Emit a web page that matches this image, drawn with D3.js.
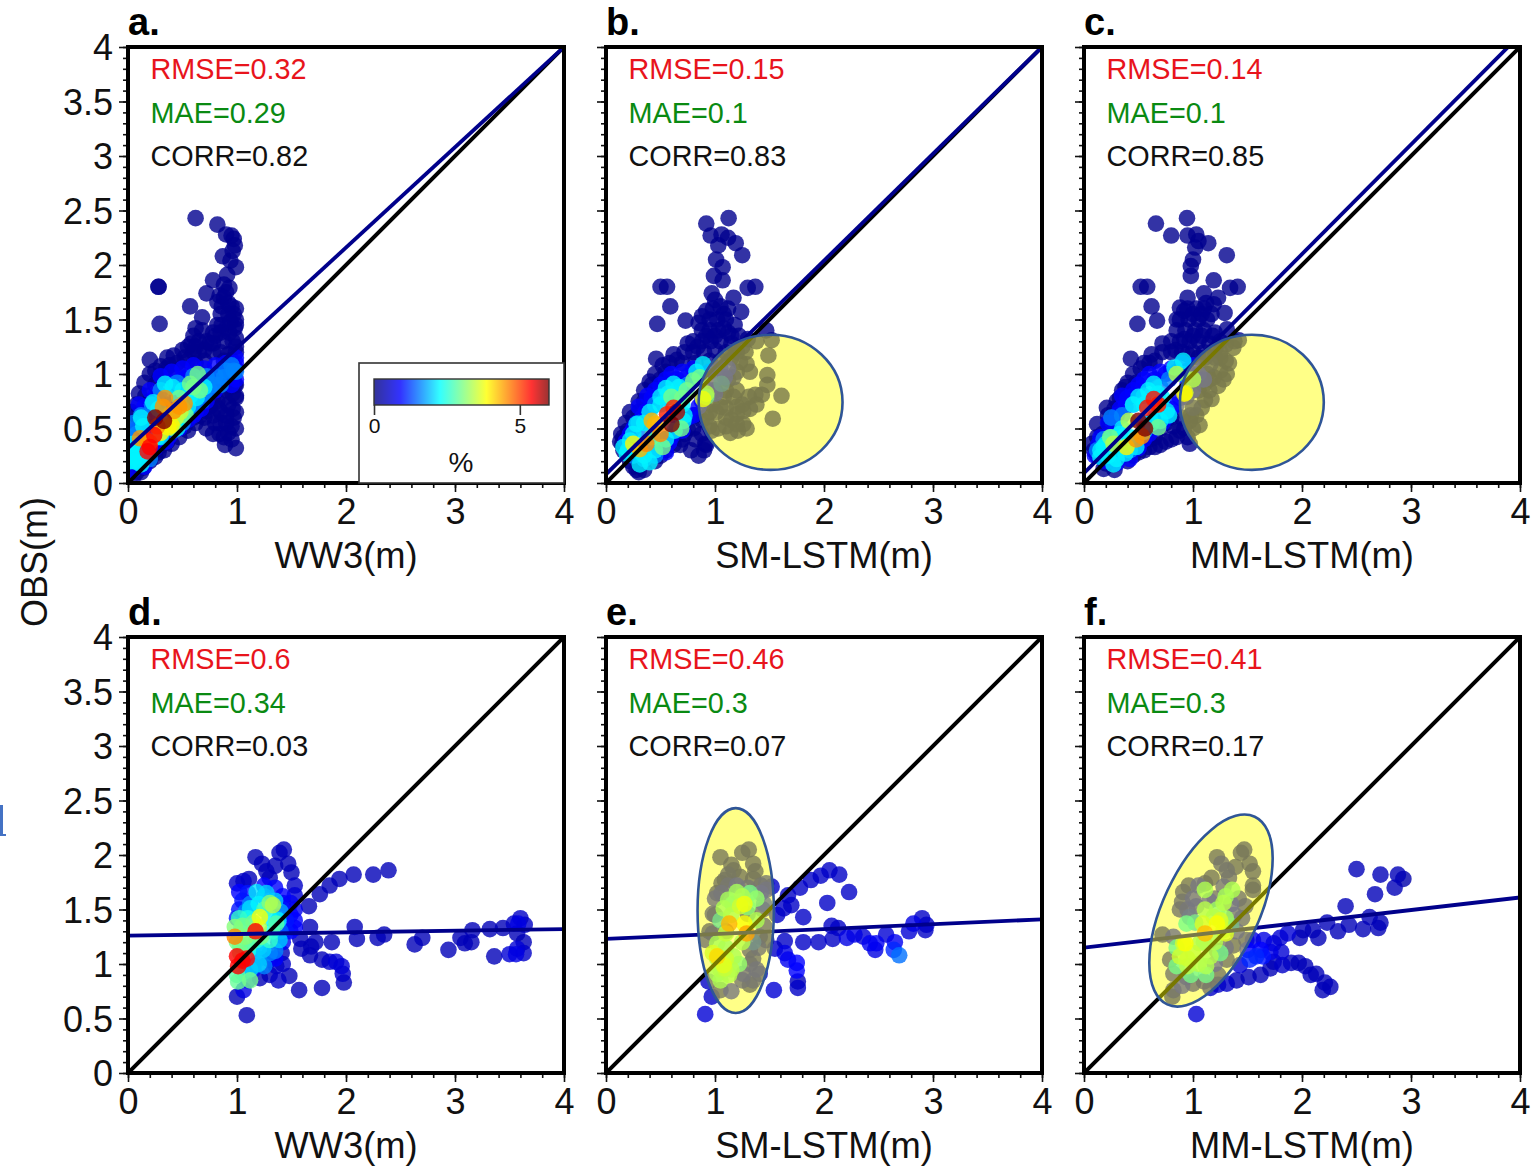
<!DOCTYPE html>
<html>
<head>
<meta charset="utf-8">
<script src="https://cdn.jsdelivr.net/npm/d3@7"></script>
<style>
html, body { margin: 0; padding: 0; background: #fff; overflow: hidden; }
svg { display: block; }
text { font-family: "Liberation Sans", Arial, sans-serif; }
</style>
</head>
<body>
<div id="chart"></div>
<script>
// Textes de chaque panneau
var panelLetters = ["a.", "b.", "c.", "d.", "e.", "f."];
var xLabels = ["WW3(m)", "SM-LSTM(m)", "MM-LSTM(m)", "WW3(m)", "SM-LSTM(m)", "MM-LSTM(m)"];
var rmseValues = ["0.32", "0.15", "0.14", "0.6", "0.46", "0.41"];
var maeValues = ["0.29", "0.1", "0.1", "0.34", "0.3", "0.3"];
var corrValues = ["0.82", "0.83", "0.85", "0.03", "0.07", "0.17"];

// Droites de regression : [y a x=0, y a x=4]
var fitLines = [[0.32, 4.0], [0.08, 4.0], [0.09, 4.11], [1.26, 1.32], [1.23, 1.41], [1.15, 1.61]];

var xMajor = [0, 1, 2, 3, 4];
var yMajor = [0, 0.5, 1, 1.5, 2, 2.5, 3, 3.5, 4];
var legendTicks = [0, 5];

// Echelle de couleur (%)
var colorStops = [0, 0.9, 2.26, 3.86, 5.4, 6];
var colorValues = ["#000080", "#0000ff", "#00ffff", "#ffff00", "#ff0000", "#800000"];

// Ellipses jaunes : panneau, centre x, centre y, rayon x, rayon y (en m), rotation
var highlights = [
    [1, 1.51, 0.74, 0.66, 0.62, 0],
    [2, 1.54, 0.74, 0.66, 0.62, 0],
    [4, 1.19, 1.49, 0.35, 0.94, 0],
    [5, 1.165, 1.49, 0.44, 0.95, 25]
];

// Points : [x, y, %]
var pointsA = [
[.62,2.43,.1],[.82,2.37,.1],[.9,2.28,.1],[.95,2.27,.1],[.97,2.24,.1],[.98,2.18,.1],[.96,2.13,.1],[.87,2.08,.1],[.94,2.04,.1],[.99,1.98,.1],[.91,1.91,.1],[.78,1.86,.1],[.88,1.82,.1],[.93,1.79,.1],[.72,1.74,.1],[.28,1.8,.1],[.28,1.8,.1],[.29,1.46,.1],[.57,1.62,.1],[.68,1.52,.1],[.2,1.13,.1],
[.82,1.66,.1],[.88,1.7,.1],[.95,1.62,.1],[.99,1.6,.1],[.85,1.55,.1],[.92,1.55,.1],[.99,1.5,.1],[.82,1.45,.1],[.9,1.42,.1],[.98,1.42,.1],[.99,1.33,.1],[.8,1.35,.1],[.88,1.3,.1],[.96,1.3,.1],[.75,1.28,.1],[.62,1.42,.1],[.6,1.35,.1],[.65,1.3,.1],[.7,1.22,.1],[.55,1.25,.1],[.5,1.22,.1],[.42,1.17,.1],[.36,1.15,.1],[.3,1.07,.1],[.2,1,.1],[.25,1.03,.1],[.15,.92,.1],[.1,.82,.1],[.03,.65,.1],[.02,.55,.1],[.08,.72,.1],[.16,.8,.1],[.28,.95,.1],[.35,1.05,.1],[.45,1.1,.1],[.52,1.15,.1],[.6,1.2,.1],[.7,1.12,.1],[.78,1.2,.1],[.85,1.2,.1],[.92,1.18,.1],[.99,1.2,.1],
[.99,.32,.1],[.89,.35,.1],[.78,.45,.1],[.92,.46,.1],[.84,.45,.1],[.72,.5,.1],[.8,.55,.1],[.9,.55,.1],[.97,.6,.1],[.7,.6,.1],[.62,.55,.1],[.55,.48,.1],[.47,.42,.1],[.4,.36,.1],[.33,.3,.1],[.25,.24,.1],[.2,.2,.1],[.85,.65,.1],[.92,.72,.1],[.99,.78,.1],[.82,.75,.1],[.9,.85,.1],[.98,.9,.1],[.75,.7,.1],[.99,.8,.1],[.12,.1,.1],[.05,.06,.1],
[.05,.45,.1],[.1,.5,.1],[.08,.62,.1],[.15,.6,.1],[.2,.75,.1],[.25,.9,.1],[.33,.98,.1],[.38,1.08,.1],[.46,1.03,.1],[.55,1.12,.1],[.62,1.1,.1],[.65,1.2,.1],[.72,1.3,.1],[.78,1.38,.1],[.85,1.38,.1],[.93,1.38,.1],[.78,1.28,.1],[.86,1.45,.1],[.94,1.48,.1],[.86,1.62,.1],[.92,1.65,.1],[.84,1.72,.1],[.9,1.75,.1],[.97,1.55,.1],[.99,1.45,.1],[.99,1.25,.1],[.68,1.4,.1],[.58,1.28,.1],[.62,1.25,.1],[.88,1.12,.1],[.95,1.12,.1],
[.88,.42,.1],[.95,.52,.1],[.99,.65,.1],[.85,.55,.1],[.78,.62,.1],[.72,.66,.1],[.66,.62,.1],[.6,.6,.1],[.52,.52,.1],[.96,.68,.1],[.9,.62,.1],[.99,.5,.1],[.95,.4,.1],[.88,.78,.1],[.96,.82,.1],[.99,.9,.1],[.78,.78,.1],[.83,.68,.1],[.93,.95,.1],[.3,.34,.1],[.36,.38,.1],[.28,.28,.1],[.14,.14,.1],[.08,.1,.1],
[.1,.72,.9],[.2,.85,.9],[.3,.98,.9],[.4,1.02,.9],[.5,1.05,.9],[.6,1.08,.9],[.7,1.05,.9],[.8,1.08,.9],[.9,1.1,.9],[.99,1.15,.9],[.99,1.05,.9],[.99,.95,.9],[.95,1,.9],[.85,1,.9],[.95,.9,.9],[.72,.75,.9],[.8,.85,.9],[.62,.65,.9],[.55,.58,.9],[.47,.5,.9],[.38,.43,.9],[.3,.38,.9],[.22,.3,.9],[.15,.2,.9],[.05,.12,.9],[.75,.95,.9],[.15,.7,.9],[.25,.8,.9],[.4,.92,.9],[.5,.95,.9],
[.08,.5,.9],[.18,.62,.9],[.28,.75,.9],[.35,.72,.9],[.45,.8,.9],[.55,.98,.9],[.65,.98,.9],[.78,.92,.9],[.88,.95,.9],[.97,.98,.9],[.99,1.1,.9],[.7,.9,.9],[.67,.68,.9],[.6,.62,.9],[.35,.38,.9],[.25,.32,.9],[.15,.15,.9],[.1,.25,.9],[.02,.2,.9],[.2,.5,.9],
[.3,.85,1.6],[.22,.72,1.6],[.12,.62,1.6],[.6,.98,1.6],[.72,.98,1.6],[.8,.98,1.6],[.9,1.03,1.6],[.95,1.08,1.6],[.68,.75,1.6],[.6,.72,1.6],[.5,.55,1.6],[.42,.48,1.6],[.05,.55,1.6],[.85,.9,1.6],[.75,.85,1.6],
[.15,.55,1.6],[.25,.65,1.6],[.08,.45,1.6],[.35,.8,1.6],[.45,.92,1.6],[.55,.88,1.6],[.7,.82,1.6],[.78,.9,1.6],[.88,.97,1.6],[.97,1.03,1.6],[.58,.68,1.6],[.02,.42,1.6],[.2,.22,1.6],[.12,.3,1.6],[.99,1.02,1.6],
[.34,.91,2.2],[.41,.88,2.2],[.12,.6,2.2],[.06,.24,2.2],[.09,.19,2.2],[.05,.36,2.2],[.5,.85,2.2],[.57,.8,2.2],[.63,.78,2.2],[.23,.74,2.2],[.03,.3,2.2],[.3,.42,2.2],[.5,.6,2.2],[.42,.55,2.2],[.18,.27,2.2],
[.14,.52,2.2],[.08,.3,2.2],[.02,.2,2.2],[.27,.42,2.2],[.12,.17,2.2],[.28,.68,2.2],[.45,.5,2.2],[.55,.7,2.2],[.7,.88,2.2],[.05,.2,2.2],
[.64,1,3],[.57,.91,3],[.66,.85,3],[.6,.88,3],[.47,.78,3],[.5,.68,3],[.42,.5,3],[.53,.62,3],
[.44,.6,3.5],[.38,.62,3.5],[.48,.65,3.5],[.37,.51,3.9],[.4,.53,3.9],[.3,.46,3.9],
[.34,.78,4.5],[.32,.7,4.5],[.47,.7,4.5],[.52,.73,4.5],[.42,.66,4.5],[.17,.39,4.5],[.11,.41,4.5],[.2,.37,4.5],[.27,.52,4.5],
[.18,.29,5.4],[.2,.33,5.4],[.24,.44,5.4],[.25,.6,6],[.33,.57,6]
];
var pointsB = [
[1.125,2.43,.1],[.92,2.38,.1],[.96,2.27,.1],[1.06,2.28,.1],[1.12,2.25,.1],[1.19,2.2,.1],[1.03,2.18,.1],[1.25,2.09,.1],[1.01,2.05,.1],[1.07,1.98,.1],[.99,1.9,.1],[1.07,1.86,.1],[.5,1.8,.1],[.56,1.8,.1],[1.3,1.79,.1],[1.37,1.8,.1],[.97,1.74,.1],[1.17,1.7,.1],[.59,1.62,.1],[1.24,1.57,.1],[.73,1.49,.1],[.47,1.46,.1],[.88,1.53,.1],[.46,1.14,.1],[1.47,1.4,.1],
[.98,1.6,.1],[1.05,1.62,.1],[1.12,1.6,.1],[.95,1.5,.1],[1.02,1.5,.1],[1.1,1.5,.1],[1.18,1.45,.1],[.88,1.4,.1],[.95,1.4,.1],[1.03,1.4,.1],[1.12,1.38,.1],[1.22,1.35,.1],[1.3,1.32,.1],[.8,1.3,.1],[.88,1.3,.1],[.96,1.3,.1],[1.05,1.3,.1],[1.15,1.28,.1],[.72,1.2,.1],[.8,1.2,.1],[.9,1.2,.1],[1,1.22,.1],[1.1,1.2,.1],[.65,1.13,.1],[.58,1.1,.1],[.7,1.1,.1],[.82,1.1,.1],[.55,1.02,.1],[.45,1,.1],[.4,.93,.1],[.35,.85,.1],[.3,.75,.1],[.22,.65,.1],[.18,.55,.1],[.14,.45,.1],[.13,.38,.1],[.16,.3,.1],[.22,.2,.1],[.28,.12,.1],[.3,.1,.1],[.55,.3,.1],[.62,.35,.1],[.7,.4,.1],[.82,.4,.1],[.92,.35,.1],[.9,.3,.1],[.85,.25,.1],[.55,.4,.1],[.65,.45,.1],[.75,.5,.1],
[.2,.48,.1],[.25,.6,.1],[.3,.65,.1],[.35,.75,.1],[.42,.9,.1],[.5,.95,.1],[.52,1.08,.1],[.62,1.18,.1],[.75,1.28,.1],[.84,1.25,.1],[.92,1.35,.1],[1,1.35,.1],[1.08,1.42,.1],[1.15,1.35,.1],[1.25,1.25,.1],[1.38,1.3,.1],[1.2,1.2,.1],[.85,1.47,.1],[.92,1.58,.1],[1,1.68,.1],[1.08,1.55,.1],[.16,.42,.1],[.15,.36,.1],[.2,.3,.1],[.25,.15,.1],[.35,.12,.1],[.45,.2,.1],[.5,.25,.1],[.68,.35,.1],[.78,.3,.1],[.6,.42,.1],[.72,.45,.1],[.8,.5,.1],[.88,.45,.1],[.95,.52,.1],[.88,.58,.1],[.82,.62,.1],[.92,.6,.1],[.97,.72,.1],[1.05,.7,.1],[1.1,.85,.1],[1,.85,.1],[1.12,.95,.1],[1.2,1.02,.1],[1.15,1.15,.1],[1.05,1.12,.1],[.95,1.12,.1],[1.28,1.2,.1],[1.1,.6,.1],[1.15,.58,.1],[1.32,.68,.1],[1.25,.72,.1],[1.1,.52,.1],[1.2,.7,.1],[1.38,.72,.1],
[.6,1,.9],[.7,1.02,.9],[.8,1.05,.9],[.5,.9,.9],[.42,.78,.9],[.37,.66,.9],[.28,.55,.9],[.22,.45,.9],[.18,.38,.9],[.5,.3,.9],[.58,.37,.9],[.65,.5,.9],[.75,.6,.9],[.85,.7,.9],[.95,.85,.9],[1,.95,.9],[.3,.7,.9],[.38,.8,.9],[.9,1,.9],
[.25,.5,.9],[.33,.6,.9],[.42,.7,.9],[.45,.85,.9],[.55,.95,.9],[.65,.95,.9],[.75,.98,.9],[.85,1,.9],[.95,1.02,.9],[.2,.35,.9],[.25,.28,.9],[.42,.27,.9],[.55,.28,.9],[.6,.42,.9],[.7,.48,.9],[.8,.62,.9],[.88,.75,.9],[1,.82,.9],[1.05,1.05,.9],[.22,.3,.9],[1.12,1.05,.9],
[1.52,1.31,.1],[1.49,1.17,.1],[1.48,.99,.1],[1.48,.9,.1],[1.61,.8,.1],[1.53,.59,.1],[1.37,.81,.1],[1.43,.81,.1],[1.31,.79,.1],[1.2,.85,.1],[1.23,1.11,.1],[1.29,1.09,.1],[1.32,1.02,.1],[1.26,.66,.1],[1.2,.63,.1],[1.29,.5,.1],[1.21,.48,.1],[1.14,.46,.1],[1.03,.5,.1],[.97,.48,.1],[1.1,.69,.1],[1.01,.65,.1],[.95,.65,.1],[1.17,.79,.1],[1.08,.79,.1],[1.2,.54,.1],[1.26,.54,.1],[.91,.36,.1],[1.17,.97,.3],[1.09,.97,.9],[1.06,.91,1.3],
[.3,.55,1.6],[.35,.48,1.6],[.45,.72,1.6],[.55,.78,1.6],[.65,.82,1.6],[.75,.9,1.6],[.25,.25,1.6],[.35,.22,1.6],[.45,.25,1.6],[.65,.6,1.6],[.42,.4,1.6],
[.89,1.09,2.2],[.83,1.02,2.2],[.62,.91,2.2],[.57,.82,2.2],[.5,.79,2.2],[.22,.39,2.2],[.19,.27,2.2],[.31,.17,2.2],[.4,.19,2.2],[.16,.33,2.2],[.71,.57,2.2],[.63,.48,2.2],[.28,.54,2.2],[.92,.79,2],
[.25,.45,2.2],[.2,.3,2.2],[.28,.3,2.2],[.35,.25,2.2],[.45,.3,2.2],[.5,.72,2.2],[.55,.87,2.2],[.67,.88,2.2],[.72,.62,2.2],[.55,.4,2.2],[.7,.72,2.2],[.4,.65,2.2],[.35,.55,2.2],
[.8,.94,3],[.86,.97,3],[.74,.85,3],[.92,.82,3],[.6,.79,3],[.52,.33,3],[.69,.5,3],[.7,.78,3],[.42,.42,3],
[.89,.77,3.7],[.25,.36,3.9],[.42,.57,4.3],[.5,.45,4.6],[.37,.36,4.6],[.31,.31,4.3],[.45,.54,4.3],
[.62,.69,5.2],[.56,.63,5.2],[.6,.54,6],[.65,.65,5.8]
];
var pointsC = [
[.945,2.43,.1],[.66,2.38,.1],[.8,2.27,.1],[.95,2.27,.1],[1.03,2.28,.1],[1.05,2.22,.1],[1.14,2.2,.1],[1.02,2.16,.1],[1.31,2.09,.1],[1,2.05,.1],[.98,1.99,.1],[.98,1.9,.1],[1.19,1.86,.1],[.52,1.8,.1],[.58,1.8,.1],[1.34,1.79,.1],[1.41,1.8,.1],[1.1,1.74,.1],[1.23,1.7,.1],[.95,1.7,.1],[.62,1.62,.1],[1.29,1.56,.1],[1.19,1.64,.1],[.67,1.49,.1],[.49,1.46,.1],[.43,1.14,.1],[.88,1.61,.1],[1.31,1.41,.1],[1.2,1.38,.1],
[.95,1.6,.1],[1.03,1.6,.1],[1.1,1.6,.1],[.88,1.5,.1],[.96,1.5,.1],[1.05,1.5,.1],[1.13,1.5,.1],[.85,1.4,.1],[.93,1.4,.1],[1.02,1.4,.1],[1.1,1.4,.1],[.8,1.3,.1],[.88,1.3,.1],[.97,1.3,.1],[1.05,1.3,.1],[1.15,1.28,.1],[1.25,1.3,.1],[.72,1.2,.1],[.8,1.2,.1],[.9,1.2,.1],[1,1.2,.1],[1.1,1.2,.1],[1.3,1.27,.1],[.65,1.12,.1],[.55,1.1,.1],[.45,1,.1],[.4,.92,.1],[.35,.85,.1],[.3,.75,.1],[.21,.69,.1],[.23,.55,.1],[.17,.45,.1],[.12,.54,.1],[.09,.3,.1],[.18,.13,.1],[.45,.25,.1],[.55,.3,.1],[.65,.33,.1],[.75,.38,.1],[.97,.36,.1],[.85,.42,.1],[.92,.5,.1],[.35,.25,.1],[.6,.4,.1],[.7,.5,.1],[.8,.6,.1],
[.12,.42,.1],[.07,.36,.1],[.12,.25,.1],[.2,.18,.1],[.28,.12,.1],[.4,.2,.1],[.22,.62,.1],[.28,.68,.1],[.33,.78,.1],[.38,.88,.1],[.48,.92,.1],[.52,1.05,.1],[.6,1.1,.1],[.62,1.18,.1],[.72,1.28,.1],[.84,1.22,.1],[.92,1.32,.1],[1,1.35,.1],[1.08,1.35,.1],[1.2,1.22,.1],[1.18,1.35,.1],[.85,1.5,.1],[.92,1.58,.1],[1,1.55,.1],[1.08,1.55,.1],[1.12,1.65,.1],[1.17,1.55,.1],[1.25,1.2,.1],[1.38,1.3,.1],[.5,.28,.1],[.6,.33,.1],[.7,.35,.1],[.8,.4,.1],[.88,.48,.1],[.95,.42,.1],[.9,.6,.1],[.82,.52,.1],[.98,.62,.1],[1.03,.62,.1],[.75,.55,.1],[.65,.42,.1],[.55,.45,.1],[1.1,.9,.1],[1.15,.95,.1],[1.25,1.03,.1],[1.3,1.12,.1],[1.2,1.15,.1],[1.05,1.15,.1],[.95,1.18,.1],[1.15,.85,.1],[1.05,.85,.1],[1.28,.95,.1],[1.13,1,.1],
[1.42,1.31,.1],[1.37,1.24,.1],[1.33,1.1,.1],[1.31,1,.1],[1.23,.89,.1],[1.17,.77,.1],[1.11,.76,.1],[1.06,.53,.1],[1,.5,.1],[1.06,.94,.4],[1.16,1.09,.2],[1.25,1.15,.1],[1.08,.69,.1],[1,.69,.3],[.97,.57,.1],[1.19,.97,.1],[1.11,1.15,.2],[.94,.79,.5],
[.6,1,.9],[.7,1.02,.9],[.8,1.05,.9],[.9,1.1,.9],[1,1.08,.9],[.5,.9,.9],[.4,.78,.9],[.33,.68,.9],[.28,.55,.9],[.2,.42,.9],[.13,.35,.9],[.55,.4,.9],[.65,.5,.9],[.75,.6,.9],[.85,.72,.9],[.95,.9,.9],[1.05,1,.9],[.35,.8,.9],[.45,.8,.9],
[.15,.42,.9],[.22,.55,.9],[.3,.62,.9],[.38,.7,.9],[.45,.85,.9],[.55,.95,.9],[.65,.95,.9],[.75,1,.9],[.85,1.02,.9],[.95,1.03,.9],[.1,.25,.9],[.2,.2,.9],[.3,.18,.9],[.42,.22,.9],[.5,.32,.9],[.6,.45,.9],[.72,.55,.9],[.8,.68,.9],[.88,.78,.9],[1,.85,.9],[1.1,.95,.9],
[.25,.6,1.6],[.18,.4,1.6],[.12,.3,1.6],[.33,.3,1.6],[.42,.3,1.6],[.55,.55,1.6],[.65,.6,1.6],[.45,.72,1.6],[.55,.8,1.6],[.7,.88,1.6],[.78,.95,1.6],[.9,1,1.6],[.35,.62,1.6],
[.91,1.12,2.2],[.83,1.06,2.2],[.64,.91,2.2],[.59,.85,2.2],[.5,.79,2.2],[.7,.57,2.2],[.18,.33,2.2],[.27,.17,2.2],[.33,.45,2.2],[.38,.27,2.2],[.15,.24,2.2],[.48,.33,2.2],[.76,.66,2.2],
[.25,.42,2.2],[.2,.36,2.2],[.15,.3,2.2],[.22,.25,2.2],[.3,.22,2.2],[.42,.42,2.2],[.35,.5,2.2],[.55,.72,2.2],[.68,.82,2.2],[.45,.72,2.2],[.62,.55,2.2],[.55,.47,2.2],[.78,.62,2.2],[.72,.78,2.2],
[1,.95,3],[.67,.72,3],[.68,.51,3],[.24,.42,3],[.85,1,3.4],[.93,.83,3.4],[.41,.57,3.4],[.27,.36,3.4],[.92,.82,3.9],[.39,.33,3.9],[.48,.4,4.5],[.53,.43,4.5],
[.64,.77,5.3],[.58,.69,5.3],[.68,.72,5.3],[.5,.57,6],[.56,.5,6]
];
var pointsD = [
[1.43,2.05,.4],[1.39,2.02,.4],[1.17,1.98,.4],[1.23,1.92,.4],[1.35,1.9,.4],[1.47,1.92,.4],[1.27,1.85,.4],[1.5,1.84,.4],[1.3,1.79,.4],[2.39,1.86,.4],[2.25,1.82,.4],[2.07,1.82,.4],[1.94,1.78,.4],[1.85,1.72,.4],[1.76,1.64,.4],[1.66,1.53,.4],[1.53,1.72,.5],[1.53,1.63,.6],[1.42,1.56,.6],[1.11,1.78,.4],[1,1.74,.5],[1.06,1.76,.5],
[1.67,1.34,.4],[2.08,1.34,.4],[2.1,1.23,.4],[1.87,1.2,.4],[1.72,1.2,.4],[2.29,1.24,.4],[2.35,1.27,.4],[2.7,1.24,.4],[2.63,1.18,.4],[2.94,1.13,.4],[3.05,1.24,.4],[3.09,1.19,.4],[3.15,1.2,.4],[3.16,1.31,.4],[3.32,1.32,.4],[3.44,1.33,.4],[3.54,1.37,.5],[3.6,1.42,.5],[3.64,1.36,.5],[3.57,1.28,.4],[3.63,1.2,.4],[3.36,1.07,.4],[3.5,1.09,.6],[3.56,1.09,.7],[3.63,1.1,.5],[3.57,1.14,.6],[3.58,1.37,.7],
[1.58,1.23,.4],[1.59,1.14,.4],[1.68,1.16,.4],[1.67,1.08,.4],[1.78,1.04,.4],[1.85,1.02,.5],[1.91,1.02,.6],[1.96,.98,.6],[1.97,.91,.5],[1.98,.83,.4],[1.78,.78,.4],[1.57,.76,.4],[1.48,.89,.4],[1.09,.53,.4],[1,.7,.4],[1.06,.76,.7],[1.3,.9,.4],[1.21,.87,.4],[1.42,1,.5],[1.36,.98,.5],[1.41,1.1,.4],[1.3,1.04,.4],
[1.53,1.5,.8],[1.53,1.4,.9],[1.53,1.33,.9],[1.49,1.56,.8],[1.49,1.45,.9],[1.49,1.3,.9],
[1.02,1.66,.9],[1.05,1.58,1],[1.02,1.5,1],[1,1.42,1],[1.1,1.65,1],[1.25,1.72,.9],[1.35,1.7,.9],[1.42,1.62,.9],[1.42,1.5,1],[1.15,.95,1],[1.38,1.2,1],[1.45,1.3,1],[1.45,1.4,1],[1.1,.85,1],[1.35,1.05,.9],[1.38,.85,.5],[1.42,1.2,.8],
[1.12,1.55,1.6],[1.08,1.48,1.6],[1.25,1.62,1.6],[1.3,1.55,1.6],[1.15,.98,1.6],[1.2,1.05,1.6],[1.3,1.1,1.6],[1.25,.98,1.6],[1.05,1.02,1.6],[1.08,.92,1.6],[1.4,1.48,1.8],[1.4,1.3,1.4],[1.35,1.12,1.6],
[1.18,1.66,2.1],[1.27,1.65,2],[1.12,1.51,2.1],[1.38,1.4,2.2],[1.39,1.22,2],[1.24,1.13,2],[1.3,1.42,2.2],[1.2,1,2],[1.04,1.33,2.6],[1.32,1.3,2.4],[1.18,1.22,2.5],[1.2,1.55,2.2],[1.35,1.58,2],[1.02,1.42,2.6],[1.25,1.5,2.7],[1.1,1.42,2.4],[1.3,1.22,2.6],[1.2,1.15,2],[1.1,1.12,2.4],[1.12,.95,2],[1.05,.92,2],
[1.3,1.56,3.1],[1.01,.84,2.9],[.98,1.34,3.1],[1.03,1.17,2.9],[1.12,1.19,2.9],[1.36,1.37,2.8],[1.12,.85,3],[1.08,1.25,3.1],[1.33,1.54,3.4],[1.2,1.34,3.4],[1.21,1.43,3.8],[1.05,1.35,3],[1.15,1.38,3],[1.03,1.1,3],[1,.9,2.8],[1,1.2,3],[1.22,1.25,3],
[.98,1.25,4.6],[1.17,1.3,5.4],[1,1.07,5.4],[1.09,1.05,5.4],[1.01,.98,5.4],[1.05,1.03,5.4]
];
var pointsE = [
[1.31,2.05,.3],[1.25,2.02,.3],[1.05,1.98,.3],[1.15,1.91,.3],[1.35,1.92,.3],[1.37,1.85,.3],[1.17,1.86,.3],[1.23,1.8,.3],[1.09,1.77,.3],[1.02,1.65,.3],[1.06,1.74,.3],[1.35,1.78,.3],[1.12,1.82,.4],[1.42,1.72,.5],
[2.05,1.86,.5],[2.14,1.82,.5],[1.97,1.81,.5],[1.88,1.77,.5],[1.78,1.7,.5],[1.67,1.63,.5],[2.23,1.66,.5],[2.03,1.56,.5],[1.7,1.54,.5],[1.63,1.51,.5],[1.57,1.45,.5],[1.81,1.43,.5],[1.52,1.71,.5],
[2.07,1.35,.5],[2.13,1.33,.5],[2.08,1.23,.5],[2.21,1.24,.7],[2.28,1.27,.7],[2.36,1.25,.6],[2.42,1.19,.8],[2.48,1.19,.8],[2.47,1.13,.7],[2.57,1.27,.6],[2.65,1.2,.8],[2.64,1.13,1.1],[2.69,1.08,1.5],[2.78,1.3,.6],[2.82,1.37,.7],[2.9,1.42,.5],[2.94,1.36,.5],[2.93,1.31,.5],
[1.81,1.2,.5],[1.95,1.2,.5],[1.64,1.21,.5],[1.55,1.14,.5],[1.64,1.1,.7],[1.67,1.04,.8],[1.75,1.01,.9],[1.75,.94,.9],[1.76,.84,.4],[1.76,.78,.5],[1.54,.76,.6],[.91,.54,.6],[.97,.7,.5],[.94,.84,.5],[1.41,.91,.5],[1.32,.81,.3],[1.05,.76,.4],
[.98,1.46,.5],[.98,1.28,.5],[.92,1.22,.5],[1.32,1.13,.5],[1.32,1,.5],[1.38,.95,.7],[1.26,.91,.7],[1.41,1.25,.4],[1.47,1.22,.4],[1.3,1.46,.4],[1.47,1.74,.6],[1.44,1.5,.6],[1.47,1.68,.8],[1,1.6,.7],[1.06,1.65,.7],[1.12,1.72,.6],
[1,1.45,.4],[.95,1.3,.3],[1.1,1.3,.5],[1.35,1.05,.5],[1.45,1.35,.5],[1.4,1.15,.6],[1.15,.75,.8],[1.35,.85,.6],[1.25,.85,.6],[1.3,1.7,.6],[1.2,1.72,.8],[1.35,1.2,1.2],[1.45,1.55,1],[1.42,1.65,.9],
[1.05,1.4,2],[1.1,1.15,2.8],[1.3,1.52,2.5],[1.22,1,2.6],
[1.2,1.66,2.8],[1.12,1.59,2.8],[1.38,1.6,2.6],[1.32,1.65,2.2],[1.08,1.51,2.9],[1.02,1.19,2.9],[1.17,1.07,2.9],[1.05,.85,2.9],[1.02,.91,2.9],[1.38,1.4,2.9],[1.16,1.55,2.5],[1.02,1.05,3],[1.15,.95,3],[1.25,1.2,3],[1.15,1.45,3],[1.25,1.62,2.9],[1.13,.9,3],
[.98,1.1,3.4],[1.23,1.53,3.3],[1.09,.96,3.2],[1.1,1.28,3.2],[1.05,.95,3],[1.1,1.05,3.3],[1.27,1.37,3.8],[1.27,1.55,3.7],[1.08,.99,3.5],[1.13,1.37,4.7],[1.02,1.07,4.3],[1.29,1.28,4.9]
];
var pointsF = [
[1.47,2.05,.3],[1.44,2.02,.3],[1.22,1.98,.3],[1.52,1.92,.3],[1.55,1.85,.3],[1.26,1.92,.5],[1.39,1.89,.3],[1.31,1.86,.5],[1.55,1.72,.3],[1.55,1.68,.3],[1.33,1.79,.5],[.96,1.72,.3],[1.11,1.74,.3],[.91,1.66,.4],[.9,1.57,.5],[.88,1.5,.5],[1.17,1.79,.3],[1.48,1.53,.5],[1.42,1.6,.5],[1.2,1.6,.6],[.97,1.43,1],
[2.5,1.87,.4],[2.72,1.82,.4],[2.88,1.82,.4],[2.93,1.78,.3],[2.85,1.7,.4],[2.67,1.64,.4],[2.4,1.53,.4],[2.23,1.38,.4],[2.62,1.43,.4],[2.72,1.38,.4],[2.7,1.33,.4],[2.56,1.32,.4],[2.43,1.36,.4],[2.33,1.3,.4],
[2.15,1.24,.4],[2.1,1.31,.4],[2.01,1.31,.4],[1.98,1.24,.4],[1.87,1.28,.6],[1.8,1.24,.6],[1.74,1.19,.6],[1.65,1.22,.7],[1.55,1.22,.7],[1.81,1.11,.6],[1.74,1.02,.4],[1.9,1.01,.4],[1.97,1.01,.4],[2.03,.98,.4],[2.13,.91,.4],[2.08,.9,.4],[2.21,.83,.4],[2.26,.79,.4],[2.19,.76,.4],[1.82,.99,.5],[1.71,.96,.4],[1.62,.9,.4],[1.51,.88,.4],[1.4,.85,.4],[1.31,.82,.5],[1.23,.81,.5],[1.16,.78,.5],[1.03,.54,.6],
[1.58,1.07,1.1],[1.64,1.07,1],[1.52,1.04,1.1],[1.62,1.13,.9],[1.5,1.13,.9],[1.71,1.11,.7],[1.43,.99,.6],
[.72,1.27,.3],[.79,1.04,.4],[.82,.91,.5],[.82,.76,.5],[.81,.7,.3],[1.1,.84,.5],[1.23,.9,.4],[1.31,1.04,.4],[1.37,1.17,.4],[1.49,1.22,.5],[.94,.88,.6],[.82,1.25,.8],[1.03,1.53,.8],[1.28,1.71,.7],[1.38,1.45,.8],
[1,1.6,.8],[1.05,1.72,.8],[.95,1.5,.7],[1.4,1.3,.8],[1.45,1.42,.6],[1.35,1.55,.9],[1.15,1.58,.9],[1.2,1,.9],[1.22,1.12,.6],[1.3,1.15,.8],[.9,.8,.8],[1,.82,.5],[1.35,1.35,1.6],
[1.02,1.38,2],[.85,1.15,2.2],[1.12,.9,2.2],[1.25,1.1,2.2],
[.94,1.37,2.3],[.85,.98,2.3],[.98,.9,2.2],[1.11,1.68,2.9],[1.36,1.68,2.9],[1.11,1.5,3],[1.28,1.56,3],[1.16,1.07,3],[1.19,1.43,3],[1.06,1.19,3],[1.28,1.31,3],[1.1,1.2,2.8],[1.2,1.2,3],[1.3,1.42,2.7],[1.22,1.5,2.7],[1.3,1.62,2.8],[.95,.98,3],[1.05,1,3],[1.12,.98,2.9],
[1.09,1.37,3.4],[1.25,1.4,3.4],[.91,1.19,3.4],[.88,1.07,3.3],[1.3,1.28,3.5],[1,1.1,3.2],[.95,1.05,3.3],[.93,1.19,3.8],[1.22,1.37,3.8],[1.11,1.28,4.6]
];

var pointSets = [pointsA, pointsB, pointsC, pointsD, pointsE, pointsF];

// Mise en page
var largeur = 1539, hauteur = 1166;
var cote = 436;
var colonnes = [128, 606, 1084];
var rangees = [47, 637];
var rayon = 8.3;

var couleur = d3.scaleLinear().domain(colorStops).range(colorValues).clamp(true);

var svg = d3.select("#chart").append("svg").attr("width", largeur).attr("height", hauteur);
svg.append("rect").attr("width", largeur).attr("height", hauteur).attr("fill", "#fff");

var defs = svg.append("defs");
defs.append("clipPath").attr("id", "cadre").append("rect").attr("width", cote).attr("height", cote);

var xScale = d3.scaleLinear().domain([0, 4]).range([0, cote]);
var yScale = d3.scaleLinear().domain([0, 4]).range([cote, 0]);

// Graduations, etiquettes y seulement sur la premiere colonne
function dessinerAxes (g, i) {
    var formatY = i % 3 === 0 ? function (d) { return d; } : "";
    g.append("g").call(d3.axisLeft(yScale).tickValues(d3.range(0, 41).map(function (d) { return d / 10; })).tickSize(5).tickFormat(""));
    g.append("g").attr("class", "majeur-y").call(d3.axisLeft(yScale).tickValues(yMajor).tickSize(9).tickPadding(6).tickFormat(formatY));
    g.append("g").attr("transform", "translate(0," + cote + ")").call(d3.axisBottom(xScale).tickValues(d3.range(0, 21).map(function (d) { return d / 5; })).tickSize(5).tickFormat(""));
    g.append("g").attr("transform", "translate(0," + cote + ")").call(d3.axisBottom(xScale).tickValues(xMajor).tickSize(9).tickPadding(6).tickFormat(function (d) { return d; }));
    g.selectAll(".domain").remove();
    g.selectAll(".tick line").attr("stroke", "#111").attr("stroke-width", 1.6);
    g.selectAll(".tick text").attr("font-size", 36).attr("font-family", "Liberation Sans").attr("fill", "#111");
    g.selectAll(".majeur-y .tick text").attr("dy", "0.35em");
}

function dessinerPanneau (i) {
    var g = svg.append("g").attr("transform", "translate(" + colonnes[i % 3] + "," + rangees[Math.floor(i / 3)] + ")");
    dessinerAxes(g, i);

    // Points, les plus denses au-dessus
    var tries = pointSets[i].slice().sort(function (a, b) { return a[2] - b[2]; });
    g.append("g").attr("clip-path", "url(#cadre)").selectAll("circle").data(tries).enter().append("circle")
    .attr("cx", function (d) { return xScale(d[0]); })
    .attr("cy", function (d) { return yScale(d[1]); })
    .attr("r", rayon)
    .attr("fill", function (d) { return couleur(d[2]); })
    .attr("fill-opacity", 0.8);

    // Droite 1:1 et regression
    var lignes = g.append("g").attr("clip-path", "url(#cadre)");
    lignes.append("line")
    .attr("x1", xScale(0)).attr("y1", yScale(0)).attr("x2", xScale(4)).attr("y2", yScale(4))
    .attr("stroke", "#000").attr("stroke-width", 4);
    lignes.append("line")
    .attr("x1", xScale(0)).attr("y1", yScale(fitLines[i][0])).attr("x2", xScale(4)).attr("y2", yScale(fitLines[i][1]))
    .attr("stroke", "#00008b").attr("stroke-width", 3.8);

    // Cadre
    g.append("rect").attr("width", cote).attr("height", cote).attr("fill", "none").attr("stroke", "#000").attr("stroke-width", 4);

    // Textes
    g.append("text").attr("x", 0).attr("y", -12).attr("font-size", 38).attr("font-weight", "bold").text(panelLetters[i]);
    g.append("text").attr("x", 22.5).attr("y", 32).attr("font-size", 28.8).attr("fill", "#e8141c").text("RMSE=" + rmseValues[i]);
    g.append("text").attr("x", 22.5).attr("y", 76).attr("font-size", 28.8).attr("fill", "#0a8a12").text("MAE=" + maeValues[i]);
    g.append("text").attr("x", 22.5).attr("y", 119).attr("font-size", 28.8).attr("fill", "#111").text("CORR=" + corrValues[i]);
    g.append("text").attr("x", cote / 2).attr("y", cote + 85).attr("text-anchor", "middle").attr("font-size", 36.3).attr("fill", "#111").text(xLabels[i]);
}

d3.range(6).forEach(dessinerPanneau);

// Ellipses par-dessus les points
highlights.forEach(function (h) {
    var ox = colonnes[h[0] % 3], oy = rangees[Math.floor(h[0] / 3)];
    var cx = ox + xScale(h[1]), cy = oy + yScale(h[2]);
    svg.append("ellipse")
    .attr("cx", cx).attr("cy", cy)
    .attr("rx", xScale(h[3])).attr("ry", xScale(h[4]))
    .attr("transform", "rotate(" + h[5] + " " + cx + " " + cy + ")")
    .attr("fill", "#ffff00").attr("fill-opacity", 0.47)
    .attr("stroke", "#2f5597").attr("stroke-width", 2.6);
});

// Titre vertical commun
svg.append("text").attr("transform", "translate(47,562) rotate(-90)").attr("text-anchor", "middle")
.attr("font-size", 36).attr("fill", "#111").text("OBS(m)");

// Trait bleu isole au bord gauche (reste de l'image d'origine)
svg.append("rect").attr("x", 0).attr("y", 805).attr("width", 3).attr("height", 30).attr("fill", "#4472c4");
svg.append("rect").attr("x", 0).attr("y", 834).attr("width", 6).attr("height", 2).attr("fill", "#4472c4");

// Legende du panneau a
var legende = svg.append("g").attr("transform", "translate(359,363)");
legende.append("rect").attr("width", 205).attr("height", 120).attr("fill", "#fff").attr("stroke", "#333").attr("stroke-width", 1.6);
var degrade = defs.append("linearGradient").attr("id", "jet");
colorStops.forEach(function (s, i) {
    degrade.append("stop").attr("offset", (s / 6 * 100) + "%").attr("stop-color", colorValues[i]).attr("stop-opacity", 0.8);
});
var legendScale = d3.scaleLinear().domain([0, 6]).range([15, 190]);
legende.append("g").attr("transform", "translate(0,42)").call(d3.axisBottom(legendScale).tickValues(legendTicks).tickSize(10).tickPadding(3).tickFormat(function (d) { return d; })).call(function (a) {
    a.select(".domain").remove();
    a.selectAll("line").attr("stroke", "#333").attr("stroke-width", 1.6);
    a.selectAll("text").attr("font-size", 21).attr("font-family", "Liberation Sans").attr("fill", "#111");
});
legende.append("rect").attr("x", 15).attr("y", 16).attr("width", 175).attr("height", 26).attr("fill", "url(#jet)").attr("stroke", "#333").attr("stroke-width", 1.4);
legende.append("text").attr("x", 102).attr("y", 109).attr("text-anchor", "middle").attr("font-size", 28).attr("fill", "#111").text("%");
</script>
</body>
</html>
